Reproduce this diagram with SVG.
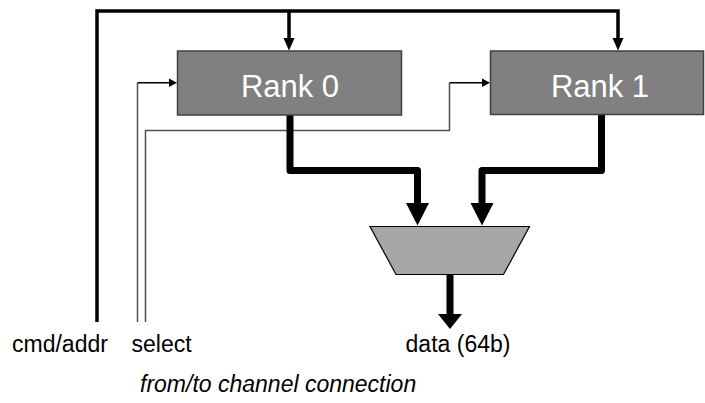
<svg xmlns="http://www.w3.org/2000/svg" width="705" height="403" viewBox="0 0 705 403">
  <style>
    .rank { fill: #808080; stroke: #404040; stroke-width: 1.5; }
    .mux { fill: #a6a6a6; stroke: #000; stroke-width: 1.2; }
    .rlabel { font-family: "Liberation Sans", Arial, sans-serif; font-size: 31px; fill: #fff; text-anchor: middle; }
    .label { font-family: "Liberation Sans", Arial, sans-serif; font-size: 23px; fill: #000; }
    .bus { fill: none; stroke: #000; stroke-width: 3.5; }
    .sel { fill: none; stroke: #505050; stroke-width: 1.5; }
    .selh { fill: none; stroke: #000; stroke-width: 1.5; }
    .data { fill: none; stroke: #000; stroke-width: 7; stroke-linejoin: round; }
    .head { fill: #000; }
  </style>
  <rect width="705" height="403" fill="#fff"/>

  <g id="connectors">
    <!-- cmd/addr bus -->
    <path class="bus" d="M97,322 V11 H618 V40"/>
    <path class="bus" d="M289,11 V40"/>
    <polygon class="head" points="283.5,38 294.5,38 289,50.5"/>
    <polygon class="head" points="612.5,38 623.5,38 618,50.5"/>

    <!-- select lines -->
    <path class="sel" d="M137.5,322 V82.7"/>
    <path class="selh" d="M137.5,82.7 H170"/>
    <polygon class="head" points="169,78.5 177,82.7 169,87"/>
    <path class="sel" d="M145.5,322 V130.5 H449.5 V82.7"/>
    <path class="selh" d="M449.5,82.7 H483"/>
    <polygon class="head" points="482,78.5 490,82.7 482,87"/>

    <!-- rank data outputs into the mux -->
    <path class="data" d="M290,115 V170.5 H417.5 V205"/>
    <polygon class="head" points="406,203 429,203 417.5,225.5"/>
    <path class="data" d="M601.5,114.5 V170.5 H482 V205"/>
    <polygon class="head" points="470.5,203 493.5,203 482,225.5"/>

    <!-- mux output -->
    <path class="data" d="M450,274 V316"/>
    <polygon class="head" points="438,314 462,314 450,329"/>
  </g>

  <g id="rank0">
    <rect class="rank" x="177.5" y="51" width="224" height="64"/>
    <text class="rlabel" x="290" y="96.5">Rank 0</text>
  </g>

  <g id="rank1">
    <rect class="rank" x="490.5" y="51" width="213" height="63.5"/>
    <text class="rlabel" x="600" y="96.5">Rank 1</text>
  </g>

  <g id="mux">
    <polygon class="mux" points="370,226.5 529.5,226.5 503.5,274.5 396,274.5"/>
  </g>

  <g id="labels">
    <text class="label" x="12" y="352">cmd/addr</text>
    <text class="label" x="131.5" y="352">select</text>
    <text class="label" x="458" y="352" text-anchor="middle">data (64b)</text>
    <text class="label" x="140" y="392" font-style="italic">from/to channel connection</text>
  </g>
</svg>
